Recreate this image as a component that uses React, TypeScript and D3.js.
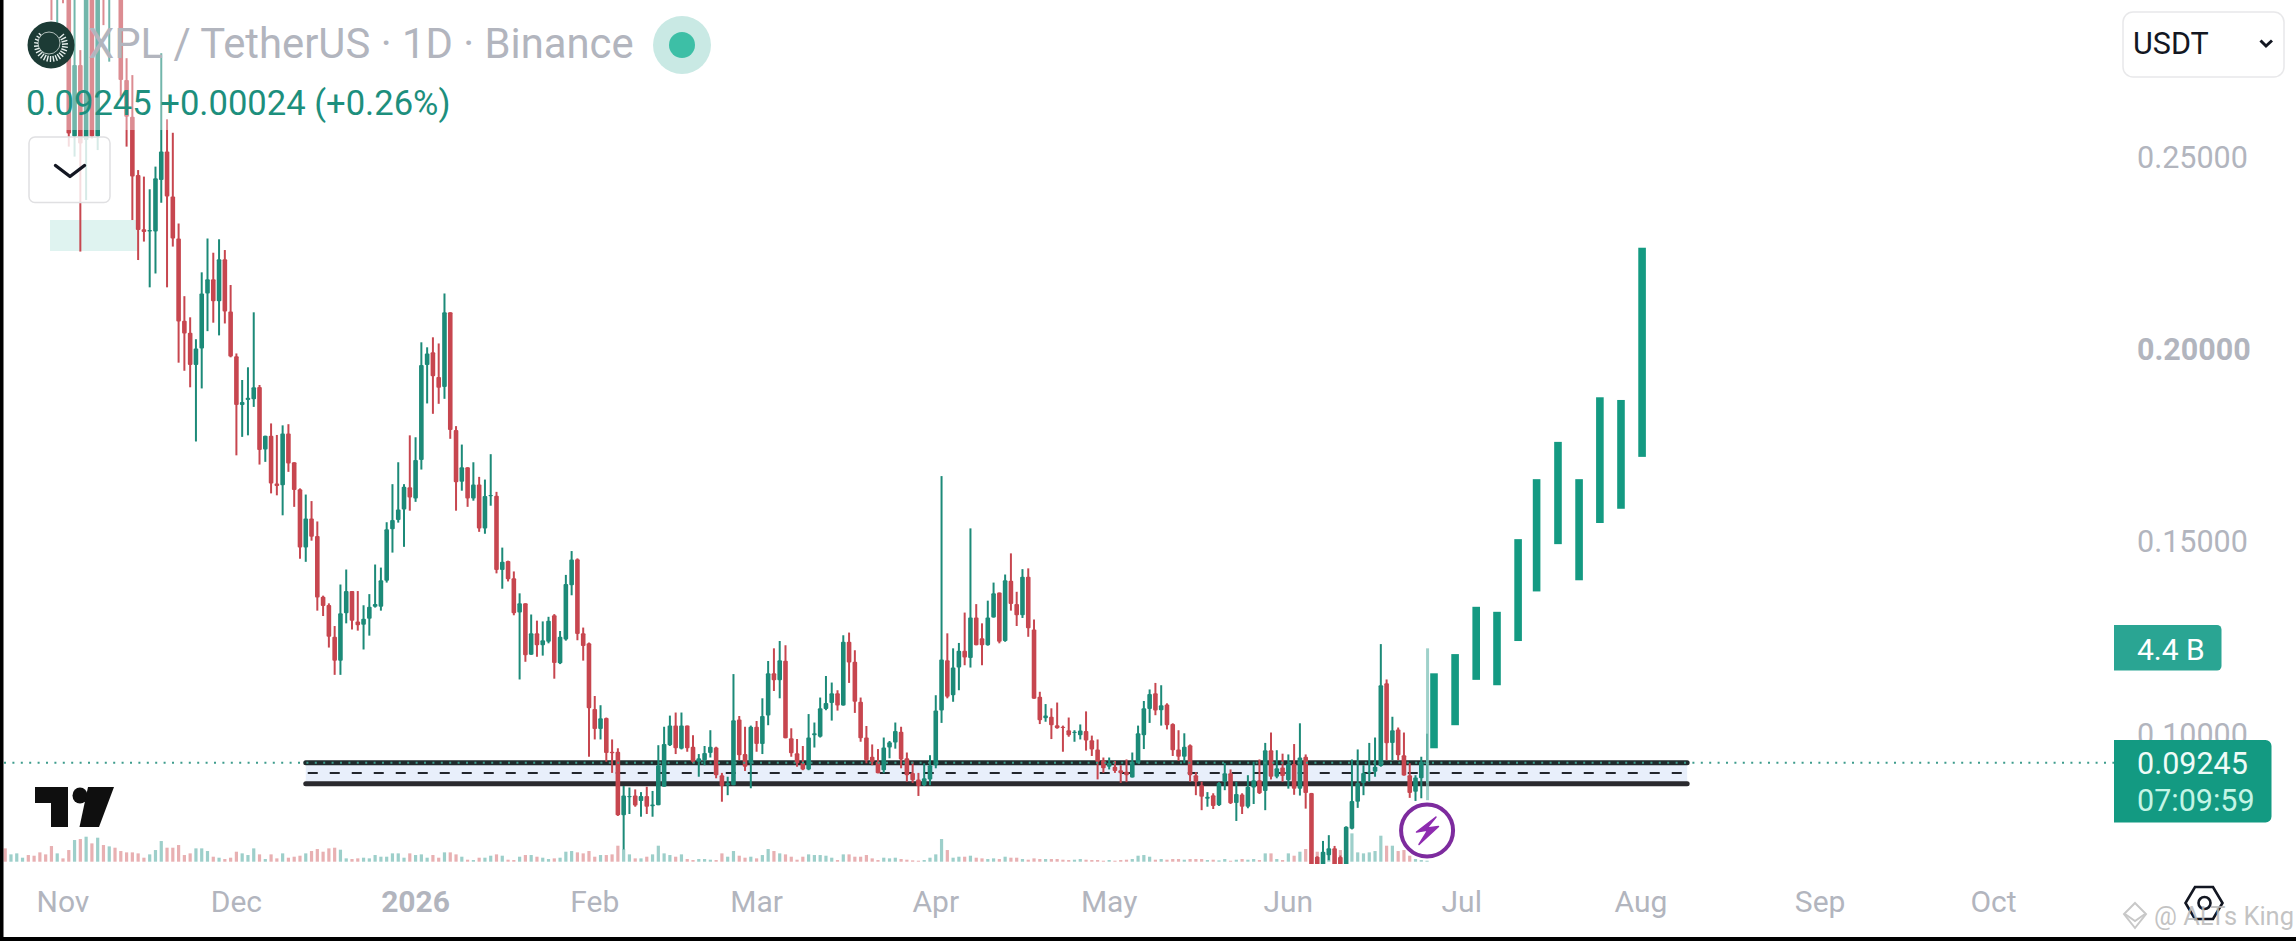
import * as d3 from "d3"

const WIDTH = 2296
const HEIGHT = 941

// daily candles, oldest first, ending on the last session of the chart
const lastDay = "2026-06-25"
const opens = [
  .3300, .3050, .3100, .3200, .3300, .3250, .3150, .3100, .3100, .2960,
  .3100, .3000, .2553, .2739, .2544, .3000, .2553, .3300, .3000, .3400,
  .3100, .2700, .2605, .2453, .2312, .2306, .2306, .2440, .2514, .2397,
  .2288, .2074, .2043, .1959, .2002, .2145, .2182, .2125, .2234, .2098,
  .1982, .1855, .1868, .1870, .1902, .1739, .1775, .1651, .1646, .1781,
  .1706, .1636, .1484, .1560, .1514, .1356, .1335, .1252, .1190, .1313,
  .1371, .1292, .1283, .1299, .1330, .1330, .1398, .1532, .1556, .1583,
  .1641, .1612, .1712, .1959, .1992, .1928, .1902, .2096, .1790, .1655,
  .1693, .1612, .1648, .1534, .1618, .1619, .1426, .1449, .1404, .1315,
  .1339, .1205, .1261, .1230, .1239, .1308, .1183, .1245, .1386, .1454,
  .1261, .1235, .1064, .1012, .1041, .0953, .0953, .0788, .0836, .0839,
  .0825, .0838, .0811, .0814, .0862, .0970, .1021, .0961, .1021, .0966,
  .0927, .0931, .0950, .0964, .0892, .0866, .0866, .1037, .0947, .0923,
  .1018, .0973, .1047, .1157, .1139, .1190, .0988, .0949, .0924, .0907,
  .0996, .0992, .1064, .1080, .1105, .1073, .1239, .1187, .1083, .0990,
  .0940, .0927, .0905, .0964, .0977, .1005, .0936, .0898, .0881, .0866,
  .0881, .0918, .1060, .1191, .1100, .1172, .1216, .1197, .1302, .1248,
  .1230, .1302, .1367, .1241, .1398, .1337, .1308, .1408, .1271, .1096,
  .1040, .1044, .1022, .1018, .1009, .1002, .0996, .1007, .0983, .0959,
  .0931, .0914, .0914, .0905, .0901, .0886, .0923, .0996, .1064, .1105,
  .1061, .1076, .1025, .0959, .0940, .0970, .0892, .0866, .0831, .0840,
  .0814, .0875, .0897, .0820, .0842, .0810, .0860, .0879, .0851, .0957,
  .0888, .0912, .0879, .0921, .0857, .0940, .0846, .0680, .0640, .0684,
  .0702, .0679, .0645, .0753, .0823, .0872, .0898, .0901, .0916, .1131,
  .0976, .1011, .0944, .0892, .0849, .0884, .0922,
]
const highs = [
  .3350, .3200, .3300, .3350, .3400, .3300, .3200, .3200, .3150, .3150,
  .3120, .3050, .3000, .2778, .3000, .3050, .3000, .3350, .3350, .3450,
  .3150, .2757, .2713, .2466, .2449, .2416, .2475, .2770, .2598, .2563,
  .2327, .2138, .2083, .2026, .2200, .2288, .2251, .2286, .2258, .2167,
  .1989, .1920, .1953, .2096, .1907, .1775, .1807, .1777, .1802, .1805,
  .1706, .1638, .1622, .1605, .1552, .1359, .1339, .1280, .1388, .1427,
  .1371, .1371, .1334, .1363, .1440, .1432, .1550, .1649, .1706, .1649,
  .1776, .1771, .2018, .2005, .2031, .2015, .2145, .2096, .1800, .1752,
  .1693, .1706, .1668, .1661, .1727, .1629, .1484, .1450, .1422, .1365,
  .1339, .1310, .1294, .1292, .1304, .1311, .1267, .1413, .1475, .1456,
  .1276, .1237, .1098, .1074, .1042, .0985, .0962, .0864, .0860, .0855,
  .0848, .0862, .0851, .0970, .1018, .1047, .1055, .1055, .1021, .0996,
  .0947, .0968, .1009, .0966, .0898, .0888, .1155, .1046, .1018, .1021,
  .1033, .1092, .1189, .1222, .1241, .1230, .1014, .0986, .0968, .1051,
  .1029, .1094, .1150, .1133, .1113, .1256, .1263, .1217, .1094, .1020,
  .0972, .0960, .0990, .0981, .1029, .1018, .0951, .0927, .0898, .0923,
  .0944, .1100, .1670, .1261, .1222, .1236, .1315, .1534, .1337, .1287,
  .1346, .1393, .1367, .1414, .1469, .1369, .1428, .1430, .1297, .1109,
  .1077, .1066, .1081, .1021, .1042, .1009, .1024, .1058, .0995, .0985,
  .0938, .0938, .0929, .0918, .0933, .0951, .1021, .1085, .1115, .1132,
  .1126, .1079, .1027, .1009, .1001, .0972, .0900, .0875, .0848, .0845,
  .0874, .0924, .0907, .0875, .0845, .0892, .0927, .0933, .0976, .1003,
  .0957, .0948, .0946, .0973, .1027, .0946, .0846, .0681, .0721, .0736,
  .0708, .0683, .0759, .0933, .0959, .0918, .0976, .0990, .1233, .1141,
  .1044, .1016, .1003, .0923, .0892, .0940, .1000,
]
const lows = [
  .3050, .3000, .3050, .3100, .3150, .3050, .3000, .2980, .2856, .2848,
  .2900, .2527, .2501, .2254, .2388, .2548, .2518, .2843, .2748, .3000,
  .2657, .2527, .2336, .2232, .2280, .2161, .2197, .2381, .2161, .2267,
  .1965, .1944, .1901, .1760, .1898, .2047, .2069, .2036, .2067, .1979,
  .1724, .1772, .1776, .1850, .1700, .1707, .1625, .1620, .1568, .1681,
  .1590, .1455, .1447, .1502, .1320, .1306, .1224, .1153, .1153, .1287,
  .1271, .1268, .1219, .1255, .1328, .1320, .1393, .1471, .1549, .1486,
  .1580, .1603, .1687, .1859, .1832, .1858, .1871, .1767, .1580, .1632,
  .1590, .1606, .1525, .1520, .1593, .1417, .1377, .1396, .1308, .1141,
  .1187, .1205, .1200, .1203, .1235, .1143, .1181, .1242, .1360, .1243,
  .1190, .0940, .0985, .0985, .0927, .0898, .0786, .0699, .0791, .0810,
  .0784, .0791, .0784, .0814, .0862, .0968, .0947, .0959, .0953, .0923,
  .0888, .0918, .0938, .0884, .0823, .0840, .0866, .0931, .0903, .0858,
  .0953, .0947, .1022, .1111, .1092, .0988, .0940, .0914, .0905, .0905,
  .0964, .0990, .1061, .1034, .1060, .1073, .1132, .1054, .0979, .0923,
  .0918, .0897, .0897, .0936, .0961, .0910, .0875, .0872, .0838, .0864,
  .0866, .0910, .1028, .1092, .1083, .1113, .1178, .1172, .1230, .1178,
  .1229, .1302, .1235, .1239, .1320, .1280, .1301, .1252, .1091, .1025,
  .1031, .0986, .1013, .0953, .0992, .0979, .0985, .0956, .0942, .0881,
  .0898, .0907, .0898, .0872, .0874, .0886, .0923, .0960, .1028, .1048,
  .1021, .1011, .0942, .0929, .0923, .0875, .0840, .0801, .0810, .0804,
  .0812, .0853, .0817, .0773, .0791, .0806, .0817, .0843, .0801, .0881,
  .0884, .0875, .0857, .0841, .0839, .0805, .0640, .0630, .0630, .0671,
  .0630, .0640, .0640, .0751, .0807, .0840, .0875, .0888, .0914, .0931,
  .0931, .0931, .0891, .0833, .0825, .0832, .0871,
]
const closes = [
  .3100, .3150, .3250, .3300, .3200, .3100, .3050, .3020, .2950, .3100,
  .2950, .2561, .2739, .2535, .2950, .2553, .2950, .3000, .3300, .3300,
  .2700, .2605, .2449, .2310, .2305, .2310, .2445, .2514, .2397, .2288,
  .2072, .2041, .1959, .2002, .2145, .2182, .2125, .2234, .2098, .1981,
  .1855, .1863, .1874, .1901, .1738, .1775, .1651, .1644, .1781, .1703,
  .1634, .1484, .1560, .1512, .1354, .1332, .1252, .1190, .1313, .1371,
  .1294, .1282, .1299, .1330, .1337, .1399, .1532, .1556, .1583, .1642,
  .1614, .1712, .1959, .1989, .1930, .1900, .2096, .1790, .1654, .1693,
  .1612, .1648, .1534, .1618, .1621, .1426, .1447, .1402, .1313, .1339,
  .1204, .1261, .1230, .1243, .1294, .1184, .1252, .1389, .1453, .1259,
  .1228, .1066, .1012, .1040, .0950, .0949, .0788, .0839, .0838, .0813,
  .0838, .0810, .0816, .0918, .0973, .1021, .0962, .1021, .0962, .0927,
  .0936, .0950, .0966, .0892, .0864, .0872, .1035, .0944, .0914, .1018,
  .0973, .1046, .1157, .1139, .1191, .0988, .0949, .0923, .0907, .0990,
  .1001, .1066, .1080, .1105, .1073, .1239, .1185, .1083, .0988, .0931,
  .0927, .0897, .0964, .0978, .1007, .0933, .0892, .0879, .0864, .0884,
  .0918, .1060, .1193, .1096, .1172, .1216, .1198, .1302, .1230, .1230,
  .1302, .1365, .1239, .1399, .1337, .1308, .1408, .1274, .1091, .1035,
  .1047, .1022, .1014, .1015, .0996, .1005, .1008, .0982, .0959, .0927,
  .0910, .0924, .0903, .0897, .0892, .0927, .1001, .1066, .1103, .1060,
  .1074, .1022, .0957, .0940, .0966, .0892, .0875, .0836, .0836, .0812,
  .0872, .0897, .0819, .0843, .0810, .0862, .0879, .0845, .0957, .0888,
  .0910, .0890, .0921, .0857, .0938, .0846, .0650, .0640, .0693, .0702,
  .0640, .0650, .0758, .0825, .0872, .0898, .0901, .0914, .1126, .0975,
  .1009, .0944, .0891, .0846, .0886, .0927, .09245,
]
// volume, arbitrary units since the pane has no scale
const volumes = [
  40, 22, 25, 12, 20, 18, 28, 22, 47, 25,
  10, 35, 65, 68, 75, 55, 72, 50, 46, 42,
  32, 28, 28, 25, 12, 22, 35, 62, 42, 42,
  50, 20, 25, 40, 40, 32, 15, 12, 8, 12,
  30, 25, 20, 40, 22, 8, 22, 10, 25, 12,
  15, 18, 25, 32, 38, 30, 40, 42, 36, 10,
  8, 10, 12, 10, 20, 15, 15, 25, 25, 12,
  25, 20, 22, 12, 20, 12, 28, 28, 22, 15,
  6, 5, 12, 12, 18, 22, 18, 6, 5, 15,
  20, 20, 15, 12, 8, 10, 12, 30, 32, 28,
  25, 32, 15, 20, 20, 22, 48, 38, 22, 10,
  10, 15, 22, 48, 25, 20, 15, 22, 8, 5,
  8, 8, 6, 5, 25, 15, 32, 18, 12, 15,
  10, 20, 38, 32, 25, 22, 15, 6, 15, 22,
  20, 20, 18, 12, 5, 22, 22, 15, 15, 20,
  10, 5, 12, 10, 12, 8, 6, 4, 3, 5,
  12, 22, 68, 35, 12, 15, 15, 18, 12, 10,
  8, 10, 8, 15, 12, 12, 8, 6, 10, 8,
  8, 8, 8, 6, 5, 6, 8, 6, 5, 5,
  3, 5, 3, 5, 6, 8, 18, 20, 15, 6,
  8, 6, 8, 8, 6, 8, 8, 8, 5, 6,
  4, 8, 3, 6, 8, 6, 8, 5, 25, 25,
  8, 5, 25, 18, 30, 38, 42, 30, 20, 25,
  30, 35, 60, 85, 28, 25, 28, 32, 78, 48,
  48, 32, 35, 18, 8, 5, 3,
]
// the current session as first drawn, seen as a pale wick behind its candle
const ghostHigh = 0.1222
const ghostLow = 0.0827

// projected bars pattern, days after the last session
const projDays = [1.2, 4.85, 8.5, 12.1, 15.75, 18.95, 22.65, 26.3, 29.9, 33.55, 37.2]
const projTops = [.1157, .1207, .1330, .1317, .1506, .1662, .1759, .1662, .1875, .1868, .2264]
const projBottoms = [.0962, .1022, .1140, .1126, .1241, .1370, .1493, .1399, .1548, .1585, .1720]

// support band drawn on the chart
const bandTop = 0.09245
const bandMid = 0.08975
const bandBottom = 0.08696
const bandStart = "2025-12-13"
const bandEnd = "2026-08-09"

const priceTicks = [0.25, 0.2, 0.15, 0.1]
const boldPrice = 0.2
const lastPrice = 0.09245
const countdown = "07:09:59"
const title = "XPL / TetherUS · 1D · Binance"
const change = "0.09245 +0.00024 (+0.26%)"

const FONT = "Roboto, sans-serif"
const RED = "#c7464f"
const GREEN = "#1c8a78"
const RED_VOL = "#e8b0b2"
const GREEN_VOL = "#9dcfca"
const PROJ = "#149a82"
const AXIS = "#b2b5be"

const x = d3
  .scaleUtc()
  .domain([new Date("2025-11-01"), new Date("2026-10-01")])
  .range([63, 1993.5])
const y = d3.scaleLinear().domain([0.25, 0.09245]).range([157, 762.7])
const yVol = d3.scaleLinear().domain([0, 90]).range([861.7, 831.7])

const last = new Date(lastDay)
const dates = opens.map((_, i) => d3.utcDay.offset(last, i - (opens.length - 1)))
const months = d3.utcMonth.range(new Date("2025-11-01"), new Date("2026-10-02"))

const monthLabel = (d: Date) => (d.getUTCMonth() === 0 ? d3.utcFormat("%Y")(d) : d3.utcFormat("%b")(d))

const Logo = () => {
  // the round token icon left of the title
  const rays = d3.range(-40, 230, 12)
  return (
    <g transform="translate(51,45)">
      <circle r={23.5} fill="#1c3b35" />
      {rays.map((a) => {
        const r = (a * Math.PI) / 180
        return (
          <line
            key={a}
            x1={Math.cos(r) * 11}
            y1={Math.sin(r) * 11}
            x2={Math.cos(r) * 17}
            y2={Math.sin(r) * 17}
            stroke="#e8f0ee"
            strokeWidth={1.4}
          />
        )
      })}
      <circle r={11} cx={-2} cy={-2} fill="#1c3b35" stroke="#d5dedb" strokeWidth={0.8} />
    </g>
  )
}

export default function App() {
  const bandX0 = x(new Date(bandStart))
  const bandX1 = x(new Date(bandEnd))
  const lastX = x(last)
  return (
    <svg
      width={WIDTH}
      height={HEIGHT}
      viewBox={`0 0 ${WIDTH} ${HEIGHT}`}
      style={{ position: "absolute", left: 0, top: 0, display: "block", background: "#fff" }}
      fontFamily={FONT}
    >
      <defs>
        <clipPath id="pane">
          <rect x={3} y={0} width={2111} height={864} />
        </clipPath>
      </defs>

      {/* position tool remnant */}
      <rect x={50} y={220} width={88} height={31} fill="#dff3f0" />

      {/* band */}
      <rect x={bandX0} y={y(bandTop)} width={bandX1 - bandX0} height={y(bandBottom) - y(bandTop)} fill="#e8effb" />
      <line x1={bandX0} x2={bandX1} y1={y(bandTop)} y2={y(bandTop)} stroke="#1f2b2c" strokeWidth={5} strokeLinecap="round" />
      <line x1={bandX0} x2={bandX1} y1={y(bandBottom)} y2={y(bandBottom)} stroke="#2a2a2e" strokeWidth={5} strokeLinecap="round" />
      <line x1={bandX0 + 2} x2={bandX1 - 2} y1={y(bandMid)} y2={y(bandMid)} stroke="#22262c" strokeWidth={2} strokeDasharray="10 12" />

      <g clipPath="url(#pane)">
        {/* volume */}
        {volumes.map((v, i) => (
          <rect
            key={i}
            x={x(dates[i]) - 1.6}
            y={yVol(v)}
            width={3.2}
            height={yVol(0) - yVol(v)}
            fill={closes[i] >= opens[i] ? GREEN_VOL : RED_VOL}
          />
        ))}

        {/* candles */}
        {opens.map((o, i) => {
          const c = closes[i]
          const color = c >= o ? GREEN : RED
          const cx = x(dates[i])
          const top = y(Math.max(o, c))
          const bottom = y(Math.min(o, c))
          return (
            <g key={i}>
              <line x1={cx} x2={cx} y1={y(highs[i])} y2={y(lows[i])} stroke={color} strokeWidth={2} />
              <rect x={cx - 2.3} y={top} width={4.6} height={Math.max(bottom - top, 1.2)} rx={1} fill={color} />
            </g>
          )
        })}

        {/* ghost of the current session */}
        <line x1={lastX + 0.5} x2={lastX + 0.5} y1={y(ghostHigh)} y2={y(ghostLow)} stroke="#7fc2b8" strokeOpacity={0.75} strokeWidth={3} />
      </g>

      {/* projected bars */}
      {projDays.map((d, i) => (
        <rect
          key={d}
          x={x(d3.timeMillisecond.offset(last, d * 864e5)) - 3.8}
          y={y(projTops[i])}
          width={7.6}
          height={y(projBottoms[i]) - y(projTops[i])}
          fill={PROJ}
        />
      ))}

      {/* last price line */}
      <line x1={4} x2={2114} y1={y(lastPrice)} y2={y(lastPrice)} stroke="#3d9c8c" strokeWidth={2} strokeDasharray="2 6.4" />

      {/* legend fade over the candles */}
      <rect x={4} y={0} width={175} height={130} fill="#fff" opacity={0.38} />
      <Logo />
      <text x={88} y={58} fontSize={41.8} fill={AXIS}>
        {title}
      </text>
      <circle cx={682} cy={45} r={29} fill="#c9e9e4" />
      <circle cx={682} cy={45} r={13} fill="#3dbfa6" />
      <text x={26} y={115} fontSize={34.6} fill="#1d8f7d">
        {change}
      </text>

      {/* collapse button */}
      <rect x={29} y={137} width={81} height={65.5} rx={6} fill="#fff" fillOpacity={0.82} stroke="#e0e0e2" strokeWidth={1.5} />
      <path d="M55.5 165.5 L70 176.5 L84.5 165.5" fill="none" stroke="#131722" strokeWidth={3.4} strokeLinecap="round" strokeLinejoin="round" />

      {/* currency select */}
      <rect x={2123} y={12} width={161} height={65} rx={10} fill="#fff" stroke="#e8e8ea" strokeWidth={1.5} />
      <text x={2133} y={54} fontSize={30.5} fill="#131722">
        USDT
      </text>
      <path d="M2260.5 40.5 L2266 46 L2272 40.5" fill="none" stroke="#131722" strokeWidth={3} />

      {/* price axis */}
      {priceTicks.map((t) => (
        <text
          key={t}
          x={2137}
          y={y(t) + 11}
          fontSize={30.5}
          fill={AXIS}
          fontWeight={t === boldPrice ? 700 : 400}
        >
          {t.toFixed(5)}
        </text>
      ))}

      {/* labels on the axis */}
      <path d="M2114 625 H2217 a4.5 4.5 0 0 1 4.5 4.5 V666 a4.5 4.5 0 0 1 -4.5 4.5 H2114 Z" fill="#2aa593" />
      <text x={2137} y={660} fontSize={30} fill="#fff">
        4.4 B
      </text>
      <path d="M2114 740 H2265.5 a6 6 0 0 1 6 6 V816.5 a6 6 0 0 1 -6 6 H2114 Z" fill="#139a82" />
      <text x={2137} y={774} fontSize={30.5} fill="#eefbf7">
        {lastPrice.toFixed(5)}
      </text>
      <text x={2137} y={811} fontSize={30.5} fill="#c4f5e6">
        {countdown}
      </text>

      {/* time axis */}
      {months.map((m) => (
        <text
          key={+m}
          x={x(m)}
          y={912}
          fontSize={30}
          textAnchor="middle"
          fill={AXIS}
          fontWeight={m.getUTCMonth() === 0 ? 700 : 400}
        >
          {monthLabel(m)}
        </text>
      ))}

      {/* TradingView mark */}
      <g fill="#0f0f0f">
        <path d="M35 787 H68 V827 H51 V803 H35 Z" />
        <ellipse cx={80} cy={795.5} rx={7.5} ry={8} />
        <path d="M88 787 H114 L99 827 H79.5 Z" />
      </g>

      {/* flash marker */}
      <circle cx={lastX} cy={830.5} r={26} fill="#fff" stroke="#7d2b9e" strokeWidth={4} />
      <path d="M1436 817 L1416.5 832 L1428 830 L1419 844.5 L1438.5 826.5 L1427 828 Z" fill="#8e2cb0" stroke="#8e2cb0" strokeWidth={1.5} strokeLinejoin="round" />

      {/* settings hexagon */}
      <path d="M2195 887 H2213 L2222.5 903 L2213 919 H2195 L2185.5 903 Z" fill="none" stroke="#131722" strokeWidth={2.6} />
      <circle cx={2204.5} cy={903} r={6} fill="none" stroke="#131722" strokeWidth={2.6} />

      {/* watermark */}
      <g fill="none" stroke="#c8c8c8" strokeWidth={2}>
        <path d="M2135 903 L2146 914 L2135 928 L2124 914 Z" />
        <path d="M2125 914 L2135 921 L2145 914" />
      </g>
      <text x={2154} y={925} fontSize={25.5} fill="#b9b9b9" fillOpacity={0.85}>
        @ ALTs King
      </text>

      {/* screenshot edges */}
      <rect x={0} y={0} width={3.5} height={HEIGHT} fill="#000" />
      <rect x={0} y={937} width={WIDTH} height={4} fill="#000" />
    </svg>
  )
}
